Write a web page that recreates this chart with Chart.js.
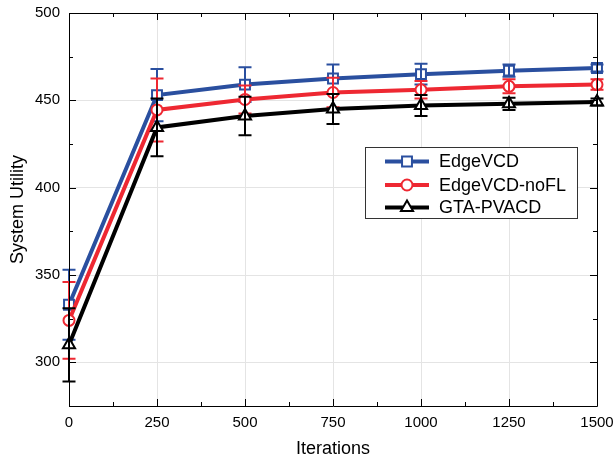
<!DOCTYPE html>
<html>
<head>
<meta charset="utf-8">
<script src="https://cdn.jsdelivr.net/npm/chart.js@4/dist/chart.umd.min.js"></script>
<style>
html,body{margin:0;padding:0;background:#fff;}
#wrap{width:613px;height:464px;position:relative;}
</style>
</head>
<body>
<div id="wrap"><canvas id="c" width="613" height="464"></canvas></div>
<script>
const iterations = [0, 250, 500, 750, 1000, 1250, 1500];
const edgeVCD = [333, 453, 459, 462.5, 465, 467, 468.5];
const edgeVCDErr = [20, 15, 10, 8, 6, 3.5, 2];
const edgeVCDnoFL = [324, 444.5, 450.5, 454.5, 456, 458, 459];
const edgeVCDnoFLErr = [22, 18, 8, 8.5, 5, 4, 3];
const gtaPVACD = [310, 434.5, 441, 445, 447, 448, 449];
const gtaPVACDErr = [21, 16.5, 11, 8.6, 6, 3.5, 2];
const xTicks = [0, 250, 500, 750, 1000, 1250, 1500];
const xMinor = [125, 375, 625, 875, 1125, 1375];
const yTicks = [300, 350, 400, 450, 500];
const yMinor = [275, 325, 375, 425, 475];
const seriesNames = ['EdgeVCD', 'EdgeVCD-noFL', 'GTA-PVACD'];

const FONT = "'Liberation Sans', Arial, sans-serif";
const BLUE = '#2a4f9f', RED = '#ee2832', BLACK = '#000000';

function pts(ys) { return iterations.map((x, i) => ({x: x, y: ys[i]})); }

const errs = [edgeVCDErr, edgeVCDnoFLErr, gtaPVACDErr];

const errorBars = {
  id: 'errorBars',
  afterDatasetDraw(chart, args) {
    const i = args.index;
    const ds = chart.data.datasets[i];
    const meta = chart.getDatasetMeta(i);
    const ys = chart.scales.y;
    const ctx = chart.ctx;
    ctx.save();
    ctx.strokeStyle = ds.borderColor;
    ctx.lineWidth = 2;
    meta.data.forEach((pt, k) => {
      const v = ds.data[k].y, e = errs[i][k];
      const top = ys.getPixelForValue(v + e), bot = ys.getPixelForValue(v - e);
      const x = pt.x;
      ctx.beginPath();
      ctx.moveTo(x, top); ctx.lineTo(x, bot);
      ctx.moveTo(x - 6.5, top); ctx.lineTo(x + 6.5, top);
      ctx.moveTo(x - 6.5, bot); ctx.lineTo(x + 6.5, bot);
      ctx.stroke();
    });
    ctx.restore();
  }
};

const frameTicks = {
  id: 'frameTicks',
  afterDraw(chart) {
    const ctx = chart.ctx, a = chart.chartArea;
    const xs = chart.scales.x, ys = chart.scales.y;
    ctx.save();
    ctx.strokeStyle = '#000';
    ctx.lineWidth = 1;
    ctx.beginPath();
    ctx.rect(Math.round(a.left) + 0.5, Math.round(a.top) + 0.5, Math.round(a.right - a.left), Math.round(a.bottom - a.top));
    ctx.stroke();
    ctx.beginPath();
    const tx = (v, len) => {
      const x = Math.round(xs.getPixelForValue(v)) + 0.5;
      ctx.moveTo(x, a.bottom); ctx.lineTo(x, a.bottom - len);
      ctx.moveTo(x, a.top); ctx.lineTo(x, a.top + len);
    };
    const ty = (v, len) => {
      const y = Math.round(ys.getPixelForValue(v)) + 0.5;
      ctx.moveTo(a.left, y); ctx.lineTo(a.left + len, y);
      ctx.moveTo(a.right, y); ctx.lineTo(a.right - len, y);
    };
    xTicks.forEach(v => tx(v, 7));
    xMinor.forEach(v => tx(v, 4));
    yTicks.forEach(v => ty(v, 7));
    yMinor.forEach(v => ty(v, 4));
    ctx.stroke();

    // legend
    const bx = 365.5, by = 147.5, bw = 212, bh = 71;
    ctx.fillStyle = '#fff';
    ctx.fillRect(bx, by, bw, bh);
    ctx.strokeStyle = '#333';
    ctx.lineWidth = 1;
    ctx.strokeRect(bx, by, bw, bh);
    const rows = [161.5, 185, 207.5];
    chart.data.datasets.forEach((ds, i) => {
      const y = rows[i];
      ctx.strokeStyle = ds.borderColor;
      ctx.lineWidth = 4;
      ctx.beginPath();
      ctx.moveTo(385, y); ctx.lineTo(429, y);
      ctx.stroke();
      ctx.fillStyle = '#fff';
      ctx.lineWidth = 2;
      Chart.helpers.drawPoint(ctx, {pointStyle: ds.pointStyle, radius: ds.pointRadius, rotation: 0, borderWidth: 2}, 407, y);
      ctx.fillStyle = '#000';
      ctx.font = '18px ' + FONT;
      ctx.textBaseline = 'middle';
      ctx.textAlign = 'left';
      ctx.fillText(seriesNames[i], 439, y + 1);
    });
    ctx.restore();
  }
};

const mk = (name, ys, color, style, r, order) => ({
  label: name, data: pts(ys), borderColor: color, backgroundColor: '#fff',
  borderWidth: 4, pointStyle: style, pointRadius: r, pointBorderWidth: 2,
  pointBackgroundColor: '#fff', pointBorderColor: color, tension: 0, order: order,
  showLine: true, clip: false
});

new Chart(document.getElementById('c'), {
  type: 'scatter',
  data: {
    datasets: [
      mk(seriesNames[0], edgeVCD, BLUE, 'rect', 7, 3),
      mk(seriesNames[1], edgeVCDnoFL, RED, 'circle', 5.5, 2),
      mk(seriesNames[2], gtaPVACD, BLACK, 'triangle', 7, 1)
    ]
  },
  options: {
    responsive: false, animation: false, devicePixelRatio: 1,
    layout: {padding: {top: 13, right: 16, left: 0, bottom: 0}},
    plugins: {legend: {display: false}, tooltip: {enabled: false}},
    scales: {
      x: {
        type: 'linear', min: 0, max: 1500,
        afterBuildTicks: s => { s.ticks = xTicks.map(v => ({value: v})); },
        afterFit: s => { s.height = 58; s.paddingLeft = 0; s.paddingRight = 0; },
        grid: {color: '#e4e4e4', lineWidth: 1, drawTicks: false},
        border: {display: false},
        ticks: {padding: 8, color: '#000', font: {family: FONT, size: 15}, maxRotation: 0, callback: v => String(v)},
        title: {display: true, text: 'Iterations', color: '#000', font: {family: FONT, size: 18}, padding: {top: 0, bottom: 4}}
      },
      y: {
        type: 'linear', min: 275, max: 500,
        afterBuildTicks: s => { s.ticks = yTicks.map(v => ({value: v})); },
        afterFit: s => { s.width = 69; s.paddingTop = 0; s.paddingBottom = 0; },
        grid: {color: '#e4e4e4', lineWidth: 1, drawTicks: false},
        border: {display: false},
        ticks: {padding: 9, color: '#000', font: {family: FONT, size: 15}, callback: v => String(v)},
        title: {display: true, text: 'System Utility', color: '#000', font: {family: FONT, size: 18}, padding: {top: 7, bottom: 0}}
      }
    }
  },
  plugins: [errorBars, frameTicks]
});
</script>
</body>
</html>
